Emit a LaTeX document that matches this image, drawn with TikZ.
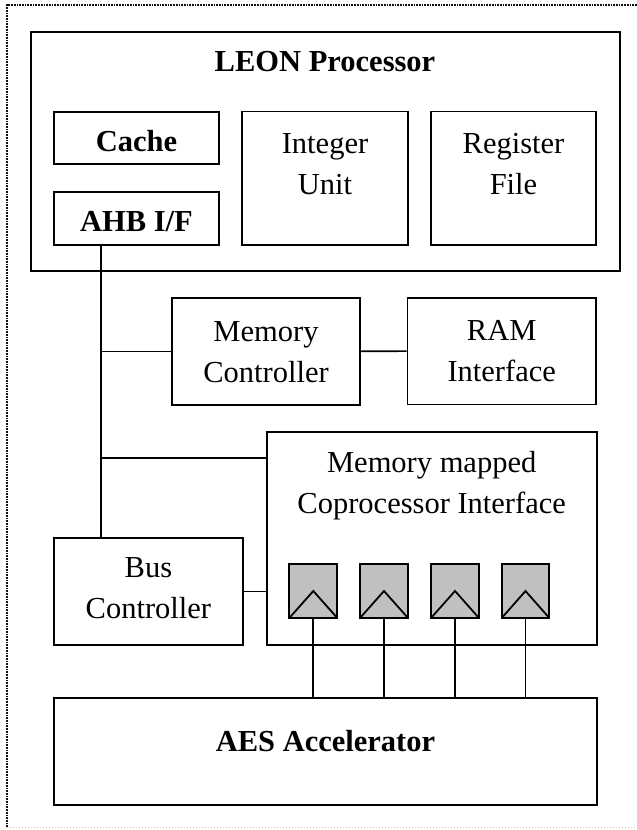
\documentclass[tikz,border=0pt]{standalone}
\usepackage{fontspec}
\setmainfont{Liberation Serif}
\usetikzlibrary{fit,calc}
\definecolor{regfill}{HTML}{C0C0C0}
\definecolor{framedark}{HTML}{101010}
\definecolor{framelight}{HTML}{C8C8C8}
\begin{document}
\begin{tikzpicture}[x=1pt,y=-1pt,
  blk/.style={draw, line width=1.9pt, inner sep=0pt, fit={#1}},
  regbox/.style={draw, line width=1.8pt, fill=regfill, inner sep=0pt, fit={#1},
    path picture={\draw[line width=1.8pt]
      (path picture bounding box.south west) --
      (path picture bounding box.center) --
      (path picture bounding box.south east);}},
  lbl/.style={font=\fontsize{30.5}{41}\selectfont, align=center, inner sep=0pt},
  blbl/.style={font=\fontsize{30.5}{41}\selectfont\bfseries, align=center, inner sep=0pt},
  wire/.style={line width=1.7pt},
  dotdark/.style={draw=framedark, line width=2.2pt, dash pattern=on 1.7pt off 1.0pt},
  dotlight/.style={draw=framelight, line width=1pt, dash pattern=on 1pt off 2pt}]

\useasboundingbox (0,0) rectangle (637,830);

% dotted outer frame
\draw[dotdark] (7,827) -- (7,5) -- (637,5);
\draw[dotlight] (7,827.5) -- (637,827.5);

% processor and its parts
\node[blk={(30.7,31.7) (620,270.7)}] (leon) {};
\node[blbl, anchor=base] (leont) at (325,71.7) {LEON Processor};
\node[blk={(54,111.7) (219,164)}] (cache) {};
\node[blbl, anchor=base] (cachet) at (136.5,151.7) {Cache};
\node[blk={(54,191.7) (219,245)}] (ahb) {};
\node[blbl, anchor=base] (ahbt) at (136.5,231.7) {AHB I/F};
\node[blk={(242,111.5) (407.7,245)}] (intu) {};
\node[lbl, anchor=north] (intut) at (325,133) {Integer\\Unit};
\node[blk={(431,111.5) (596,245)}] (regf) {};
\node[lbl, anchor=north] (regft) at (513.5,133) {Register\\File};

% memory side
\node[blk={(172,297.7) (360,405)}] (memc) {};
\node[lbl, anchor=north] (memct) at (266,321) {Memory\\Controller};
\node[blk={(407.5,297.7) (596,404.5)}] (ram) {};
\node[lbl, anchor=north] (ramt) at (501.7,320.5) {RAM\\Interface};

% coprocessor interface with its registers
\node[blk={(266.7,431.7) (596.7,645)}] (mmci) {};
\node[lbl, anchor=north] (mmcit) at (431.7,451.5) {Memory mapped\\Coprocessor Interface};
\node[regbox={(289.3,564) (337.3,618)}] (r1) {};
\node[regbox={(360,564) (408,618)}] (r2) {};
\node[regbox={(431,564) (479,618)}] (r3) {};
\node[regbox={(501.7,564) (549.3,618)}] (r4) {};

\node[blk={(54,538) (242.7,645)}] (busc) {};
\node[lbl, anchor=north] (busct) at (148.4,557.5) {Bus\\Controller};

\node[blk={(54,698) (597,805)}] (aes) {};
\node[blbl, anchor=base] (aest) at (325.5,751.7) {AES Accelerator};

% bus wiring
\coordinate (busx) at (100.7,0);
\coordinate (mmtap) at (0,457.7);
\draw[wire] (ahb.south -| busx) -- (busc.north -| busx);
\draw[wire] (busx |- memc.west) -- (memc.west);
\draw[wire] (memc.east) -- (ram.west);
\draw[wire] (busx |- mmtap) -- (mmci.west |- mmtap);
\draw[wire] (busc.east) -- (busc.east -| mmci.west);
\foreach \r in {r1,r2,r3,r4}
  \draw[wire] (\r.south) -- (\r.south |- aes.north);
\end{tikzpicture}
\end{document}
